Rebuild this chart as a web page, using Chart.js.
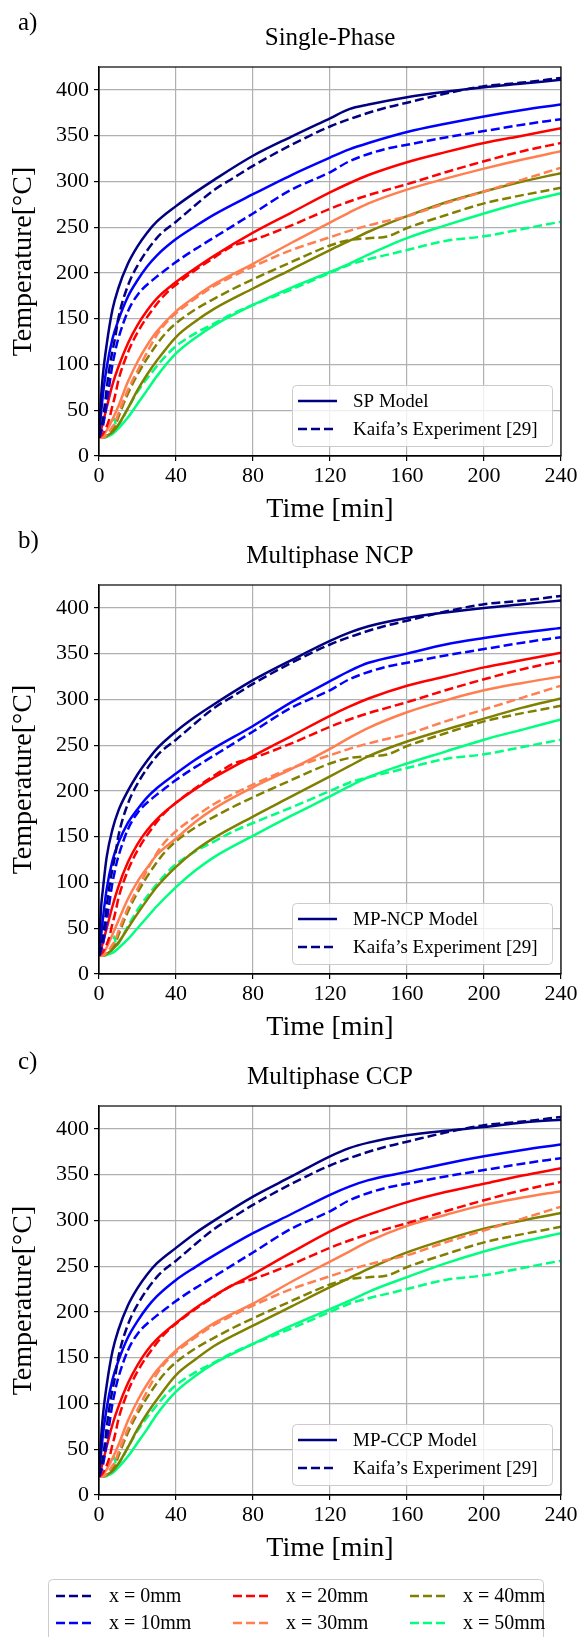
<!DOCTYPE html>
<html>
<head>
<meta charset="utf-8">
<script src="https://cdn.jsdelivr.net/npm/chart.js@4.4.0/dist/chart.umd.min.js"></script>
<style>
  body { margin: 0; background: #fff; width: 580px; height: 1637px; position: relative; overflow: hidden; }
  canvas { position: absolute; left: 0; }
</style>
</head>
<body>
<canvas id="panelA" width="580" height="524" style="top:0px"></canvas>
<canvas id="panelB" width="580" height="524" style="top:518px"></canvas>
<canvas id="panelC" width="580" height="598" style="top:1039px"></canvas>
<script>
// time axes (min)
const modelTime = [0, 1, 2, 4, 7, 10, 15, 20, 25, 30, 40, 50, 60, 80, 100, 120, 130, 140, 160, 180, 200, 220, 240];
const expTime = [0, 2, 5, 7, 8, 9, 10, 15, 20, 30, 35, 40, 50, 60, 70, 80, 100, 120, 130, 140, 150, 160, 180, 200, 220, 240];

// Kaifa's experiment, one series per depth (°C)
const exp0  = [20, 40, 90, 115, 125, 137, 150, 186, 208, 238, 248, 256, 274, 291, 304, 317, 340, 360, 368, 375, 381, 386, 396, 404, 408, 413];
const exp10 = [20, 32, 72, 100, 110, 120, 128, 158, 176, 196, 204, 212, 226, 239, 252, 265, 291, 310, 322, 330, 336, 340, 348, 355, 362, 368];
const exp20 = [20, 24, 38, 55, 63, 72, 82, 113, 135, 166, 178, 187, 203, 217, 230, 236, 252, 270, 278, 285, 291, 297, 310, 322, 333, 342];
const exp30 = [20, 20, 26, 32, 35, 40, 46, 72, 93, 132, 146, 156, 172, 186, 197, 207, 225, 239, 246, 252, 257, 262, 276, 289, 302, 315];
const exp40 = [20, 20, 24, 28, 32, 36, 42, 68, 89, 122, 135, 145, 160, 172, 183, 193, 212, 230, 236, 238, 240, 249, 263, 276, 285, 293];
const exp50 = [20, 20, 22, 28, 41, 31, 33, 52, 70, 98, 110, 120, 134, 145, 156, 165, 182, 200, 209, 215, 220, 225, 235, 240, 248, 256];

// single-phase model
const spNavy  = [20, 62, 88, 122, 160, 183, 210, 229, 244, 256, 273, 288, 302, 328, 349, 369, 379, 384, 392, 398, 403, 407, 411];
const spBlue  = [20, 45, 66, 97, 128, 148, 174, 192, 207, 219, 237, 251, 264, 286, 307, 326, 335, 342, 354, 363, 371, 378, 384];
const spRed   = [20, 28, 36, 53, 78, 97, 123, 143, 159, 172, 190, 205, 219, 244, 266, 288, 298, 307, 321, 332, 342, 350, 358];
const spCoral = [20, 20, 22, 28, 40, 54, 81, 103, 121, 136, 158, 174, 188, 210, 233, 255, 266, 276, 291, 303, 314, 324, 333];
const spOlive = [20, 20, 20, 22, 26, 34, 52, 72, 89, 104, 130, 147, 161, 183, 204, 225, 235, 245, 262, 277, 289, 300, 309];
const spGreen = [20, 20, 20, 21, 24, 30, 42, 57, 72, 87, 112, 129, 143, 165, 184, 201, 210, 220, 238, 252, 265, 277, 287];

// multiphase NCP model
const ncpNavy  = [20, 70, 92, 128, 158, 178, 200, 218, 233, 246, 265, 281, 295, 321, 343, 364, 373, 380, 389, 395, 400, 404, 408];
const ncpBlue  = [20, 40, 60, 93, 124, 143, 165, 180, 193, 203, 219, 234, 247, 271, 297, 320, 331, 340, 350, 360, 367, 373, 378];
const ncpRed   = [20, 27, 34, 50, 74, 95, 122, 142, 157, 169, 187, 202, 215, 238, 260, 282, 292, 301, 315, 325, 335, 343, 351];
const ncpCoral = [20, 20, 22, 29, 43, 58, 82, 101, 116, 130, 148, 166, 181, 204, 224, 246, 258, 269, 286, 299, 310, 318, 325];
const ncpOlive = [20, 20, 20, 22, 27, 34, 50, 66, 81, 95, 117, 135, 149, 172, 194, 216, 227, 238, 254, 267, 279, 291, 301];
const ncpGreen = [20, 20, 20, 21, 23, 28, 38, 50, 62, 74, 95, 113, 128, 151, 173, 194, 205, 215, 230, 243, 256, 267, 278];

// multiphase CCP model
const ccpNavy  = [20, 60, 86, 120, 157, 180, 207, 226, 241, 253, 270, 286, 300, 326, 348, 370, 379, 385, 393, 398, 402, 407, 410];
const ccpBlue  = [20, 44, 65, 95, 126, 146, 172, 190, 205, 217, 235, 249, 262, 286, 307, 328, 337, 344, 353, 362, 370, 377, 383];
const ccpRed   = [20, 28, 36, 53, 77, 96, 122, 142, 158, 170, 188, 204, 218, 241, 265, 288, 298, 306, 320, 331, 340, 349, 357];
const ccpCoral = [20, 20, 22, 28, 40, 54, 81, 103, 121, 136, 158, 174, 188, 209, 233, 255, 266, 277, 294, 306, 317, 325, 332];
const ccpOlive = [20, 20, 20, 22, 26, 34, 52, 72, 89, 104, 131, 148, 163, 185, 206, 227, 237, 247, 265, 279, 291, 300, 308];
const ccpGreen = [20, 20, 20, 21, 24, 30, 42, 57, 72, 88, 113, 130, 144, 165, 185, 203, 212, 222, 238, 253, 266, 277, 286];

const depthLabels = ['x = 0mm', 'x = 10mm', 'x = 20mm', 'x = 30mm', 'x = 40mm', 'x = 50mm'];
const colors = ['#000080', '#0000ff', '#ff0000', '#ff7f50', '#808000', '#00ff7f'];
const xTicks = [0, 40, 80, 120, 160, 200, 240];
const yTicks = [0, 50, 100, 150, 200, 250, 300, 350, 400];

const SERIF = '"Liberation Serif", "DejaVu Serif", serif';
const DASH = [9, 4];

const expSeries = [exp0, exp10, exp20, exp30, exp40, exp50];

function points(times, values) {
  return times.map((t, i) => ({ x: t, y: values[i] }));
}

// frame, panel letter, in-plot legend and (last panel) depth legend
const decor = {
  id: 'decor',
  afterDraw(chart, args, opts) {
    const ctx = chart.ctx;
    const a = chart.chartArea;
    ctx.save();
    ctx.setLineDash([]);
    ctx.strokeStyle = '#000';
    ctx.lineWidth = 1.2;
    ctx.strokeRect(a.left, a.top, a.right - a.left, a.bottom - a.top);

    ctx.fillStyle = '#000';
    ctx.font = '25px ' + SERIF;
    ctx.textAlign = 'left';
    ctx.textBaseline = 'alphabetic';
    ctx.fillText(opts.letter, 18, 30);

    // model / experiment legend
    ctx.beginPath();
    ctx.roundRect(292.5, 385.5, 260, 61, 4);
    ctx.fillStyle = 'rgba(255,255,255,0.8)';
    ctx.fill();
    ctx.strokeStyle = '#cccccc';
    ctx.lineWidth = 1;
    ctx.stroke();
    ctx.lineWidth = 2.5;
    ctx.strokeStyle = colors[0];
    [[opts.model, []], ["Kaifa’s Experiment [29]", DASH]].forEach(([label, dash], i) => {
      const y = 401 + i * 28;
      ctx.setLineDash(dash);
      ctx.beginPath();
      ctx.moveTo(298, y);
      ctx.lineTo(337, y);
      ctx.stroke();
      ctx.fillStyle = '#000';
      ctx.font = '19px ' + SERIF;
      ctx.textBaseline = 'middle';
      ctx.fillText(label, 353, y + 1);
    });

    if (opts.depthLegend) {
      ctx.setLineDash([]);
      ctx.beginPath();
      ctx.roundRect(48.5, 540.5, 495, 80, 4);
      ctx.fillStyle = '#fff';
      ctx.fill();
      ctx.strokeStyle = '#cccccc';
      ctx.lineWidth = 1;
      ctx.stroke();
      const colX = [56, 233, 410];
      depthLabels.forEach((label, i) => {
        const x = colX[Math.floor(i / 2)];
        const y = 557 + (i % 2) * 27;
        ctx.setLineDash(DASH);
        ctx.strokeStyle = colors[i];
        ctx.lineWidth = 2.5;
        ctx.beginPath();
        ctx.moveTo(x, y);
        ctx.lineTo(x + 39, y);
        ctx.stroke();
        ctx.fillStyle = '#000';
        ctx.font = '20px ' + SERIF;
        ctx.textBaseline = 'middle';
        ctx.fillText(label, x + 53, y + 1);
      });
    }
    ctx.restore();
  }
};

function makePanel(id, title, letter, model, modelSeries, bottomPad, depthLegend) {
  const datasets = [];
  colors.forEach((c, i) => {
    datasets.push({
      label: model + ' ' + depthLabels[i],
      data: points(modelTime, modelSeries[i]),
      borderColor: c,
      borderWidth: 2.5,
      pointRadius: 0,
      cubicInterpolationMode: 'monotone',
      fill: false
    });
    datasets.push({
      label: 'Experiment ' + depthLabels[i],
      data: points(expTime, expSeries[i]),
      borderColor: c,
      borderWidth: 2.5,
      borderDash: DASH,
      pointRadius: 0,
      cubicInterpolationMode: 'monotone',
      fill: false
    });
  });

  new Chart(document.getElementById(id), {
    type: 'line',
    data: { datasets: datasets },
    options: {
      responsive: false,
      animation: false,
      layout: { padding: { left: 0, right: 19, top: 0, bottom: bottomPad } },
      plugins: {
        legend: { display: false },
        tooltip: { enabled: false },
        title: {
          display: true,
          text: title,
          fullSize: false,
          color: '#000',
          font: { family: SERIF, size: 25, weight: 'normal', lineHeight: 1.2 },
          padding: { top: 23, bottom: 14 }
        },
        decor: { letter: letter, model: model, depthLegend: depthLegend }
      },
      scales: {
        x: {
          type: 'linear',
          min: 0,
          max: 240,
          afterBuildTicks: s => { s.ticks = xTicks.map(v => ({ value: v })); },
          ticks: { color: '#000', font: { family: SERIF, size: 22 }, padding: 2, maxRotation: 0 },
          grid: { color: '#b0b0b0', lineWidth: 1.2, tickColor: '#000', tickLength: 5, tickWidth: 1.2 },
          border: { color: '#000', width: 1.2 },
          title: { display: true, text: 'Time [min]', color: '#000', font: { family: SERIF, size: 28, lineHeight: 1 }, padding: 0 },
          afterFit: s => { s.height = 68; }
        },
        y: {
          type: 'linear',
          min: 0,
          max: 425,
          afterBuildTicks: s => { s.ticks = yTicks.map(v => ({ value: v })); },
          ticks: { color: '#000', font: { family: SERIF, size: 22 }, padding: 5 },
          grid: { color: '#b0b0b0', lineWidth: 1.2, tickColor: '#000', tickLength: 5, tickWidth: 1.2 },
          border: { color: '#000', width: 1.2 },
          title: { display: true, text: 'Temperature[°C]', color: '#000', font: { family: SERIF, size: 28, lineHeight: 1 }, padding: { top: 10, bottom: 0 } },
          afterFit: s => { s.width = 99; }
        }
      }
    },
    plugins: [decor]
  });
}

makePanel('panelA', 'Single-Phase', 'a)', 'SP Model',
  [spNavy, spBlue, spRed, spCoral, spOlive, spGreen], 0, false);
makePanel('panelB', 'Multiphase NCP', 'b)', 'MP-NCP Model',
  [ncpNavy, ncpBlue, ncpRed, ncpCoral, ncpOlive, ncpGreen], 0, false);
makePanel('panelC', 'Multiphase CCP', 'c)', 'MP-CCP Model',
  [ccpNavy, ccpBlue, ccpRed, ccpCoral, ccpOlive, ccpGreen], 74, true);
</script>
</body>
</html>
